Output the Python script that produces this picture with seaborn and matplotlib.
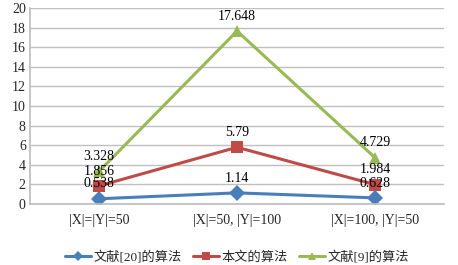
import matplotlib
matplotlib.use("Agg")
import matplotlib.pyplot as plt
import seaborn as sns
import pandas as pd

categories = ["|X|=|Y|=50", "|X|=50, |Y|=100", "|X|=100, |Y|=50"]
series_names = ["文献[20]的算法", "本文的算法", "文献[9]的算法"]
s20 = [0.538, 1.14, 0.628]
sours = [1.856, 5.79, 1.984]
s9 = [3.328, 17.648, 4.729]
label_texts = [["0.538", "1.14", "0.628"], ["1.856", "5.79", "1.984"], ["3.328", "17.648", "4.729"]]
yticks = list(range(0, 21, 2))

colors = ["#4A7EBB", "#BE4B48", "#98B954"]
markers = ["D", "s", "^"]

sns.set_theme(style="white")
plt.rcParams["font.family"] = ["Liberation Serif", "Noto Sans CJK SC", "DejaVu Sans"]

rows = []
for name, vals in zip(series_names, [s20, sours, s9]):
    for i, (c, v) in enumerate(zip(categories, vals)):
        rows.append({"x": i, "cat": c, "series": name, "value": v})
df = pd.DataFrame(rows)

fig = plt.figure(figsize=(4.58, 2.65), dpi=100)
ax = fig.add_axes([0.0655, 0.230, 0.904, 0.740])

sns.lineplot(data=df, x="x", y="value", hue="series", style="series",
             hue_order=series_names, palette=colors, markers=markers,
             dashes=False, linewidth=2.2, markersize=8, markeredgewidth=0,
             ax=ax, legend=True)

for vals, texts in zip([s20, sours, s9], label_texts):
    for i, (v, t) in enumerate(zip(vals, texts)):
        ax.annotate(t, (i, v), xytext=(0, 6), textcoords="offset points",
                    ha="center", va="bottom", fontsize=10, color="black")

ax.set_xlim(-0.5, 2.5)
ax.set_ylim(0, 20)
ax.set_yticks(yticks)
ax.set_xticks(range(len(categories)))
ax.set_xticklabels(categories, fontsize=10)
ax.tick_params(axis="y", labelsize=10, length=0, pad=3)
ax.tick_params(axis="x", length=0, pad=7)
ax.set_xlabel("")
ax.set_ylabel("")
ax.yaxis.grid(True, color="#BFBFBF", linewidth=1)
ax.xaxis.grid(False)
for s in ["top", "right"]:
    ax.spines[s].set_visible(False)
ax.spines["left"].set_color("#BFBFBF")
ax.spines["bottom"].set_color("#BFBFBF")

handles, labels = ax.get_legend_handles_labels()
ax.legend(handles, labels, loc="center", bbox_to_anchor=(0.5, -0.27),
          ncol=3, frameon=False, fontsize=9.5, handlelength=2.0,
          markerscale=0.7, columnspacing=0.8, handletextpad=0.2)

fig.savefig("out.png", dpi=100)
